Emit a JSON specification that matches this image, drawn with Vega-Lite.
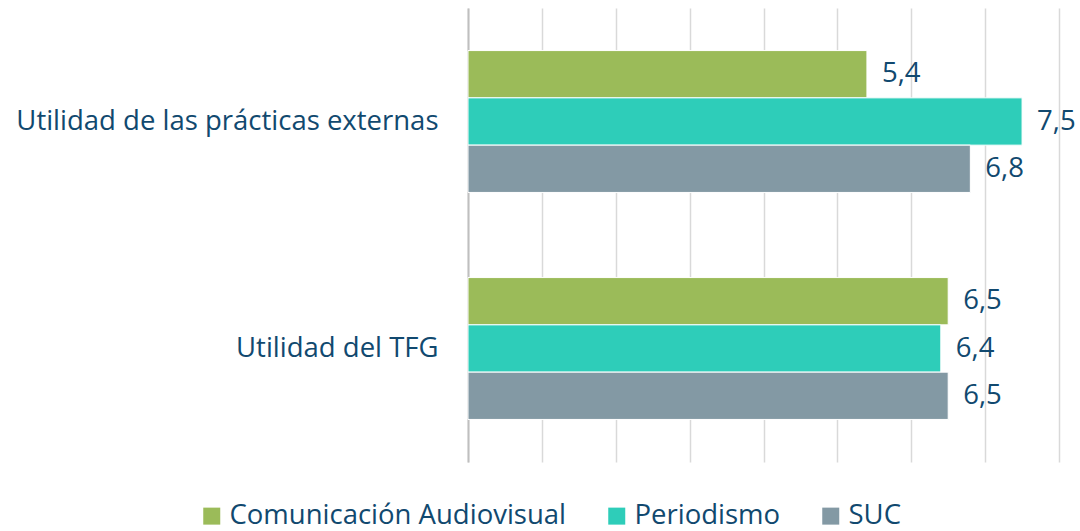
{
  "$schema": "https://vega.github.io/schema/vega-lite/v6.json",
  "width": 591,
  "height": 454,
  "padding": {"left": 13, "top": 8, "right": 5, "bottom": 5},
  "background": "white",
  "config": {
    "view": {"stroke": null},
    "font": "Open Sans",
    "locale": {"number": {"decimal": ",", "thousands": ".", "grouping": [3], "currency": ["", " €"]}}
  },
  "data": {
    "values": [
      {"item": "Utilidad de las prácticas externas", "grupo": "Comunicación Audiovisual", "valor": 5.4},
      {"item": "Utilidad de las prácticas externas", "grupo": "Periodismo", "valor": 7.5},
      {"item": "Utilidad de las prácticas externas", "grupo": "SUC", "valor": 6.8},
      {"item": "Utilidad del TFG", "grupo": "Comunicación Audiovisual", "valor": 6.5},
      {"item": "Utilidad del TFG", "grupo": "Periodismo", "valor": 6.4},
      {"item": "Utilidad del TFG", "grupo": "SUC", "valor": 6.5}
    ]
  },
  "encoding": {
    "y": {
      "field": "item", "type": "nominal", "sort": null, "title": null,
      "scale": {"paddingInner": 0, "paddingOuter": 0},
      "axis": {"ticks": false, "labelPadding": 30, "labelFontSize": 27.5, "labelColor": "#11496F",
               "domainColor": "#BFBFBF", "domainWidth": 2, "minExtent": 455, "maxExtent": 455, "labelLimit": 445, "labelFont": "Open Sans"}
    },
    "yOffset": {"field": "grupo", "type": "nominal", "sort": null, "scale": {"paddingInner": 0, "paddingOuter": 0.9}},
    "x": {
      "field": "valor", "type": "quantitative", "title": null,
      "scale": {"domain": [0, 8], "nice": false},
      "axis": {"labels": false, "ticks": false, "domain": false, "tickCount": 8, "gridColor": "#D9D9D9", "gridWidth": 1.5}
    }
  },
  "layer": [
    {
      "mark": {"type": "bar", "stroke": "white", "strokeWidth": 1},
      "encoding": {
        "color": {
          "field": "grupo", "type": "nominal", "sort": null, "title": null,
          "scale": {"domain": ["Comunicación Audiovisual", "Periodismo", "SUC"], "range": ["#9BBB59", "#2ECDB9", "#8399A4"]},
          "legend": {
            "orient": "none", "legendX": -270, "legendY": 494, "direction": "horizontal",
            "symbolType": "square", "symbolSize": 289, "symbolStrokeWidth": 0, "symbolOpacity": 1,
            "labelFontSize": 27.5, "labelColor": "#11496F", "labelOffset": 4, "columnPadding": 36, "labelLimit": 500
          }
        }
      }
    },
    {
      "mark": {"type": "text", "align": "left", "dx": 15, "fontSize": 27.5, "color": "#11496F", "baseline": "middle"},
      "encoding": {"text": {"field": "valor", "type": "quantitative", "format": ".1f"}}
    }
  ]
}
